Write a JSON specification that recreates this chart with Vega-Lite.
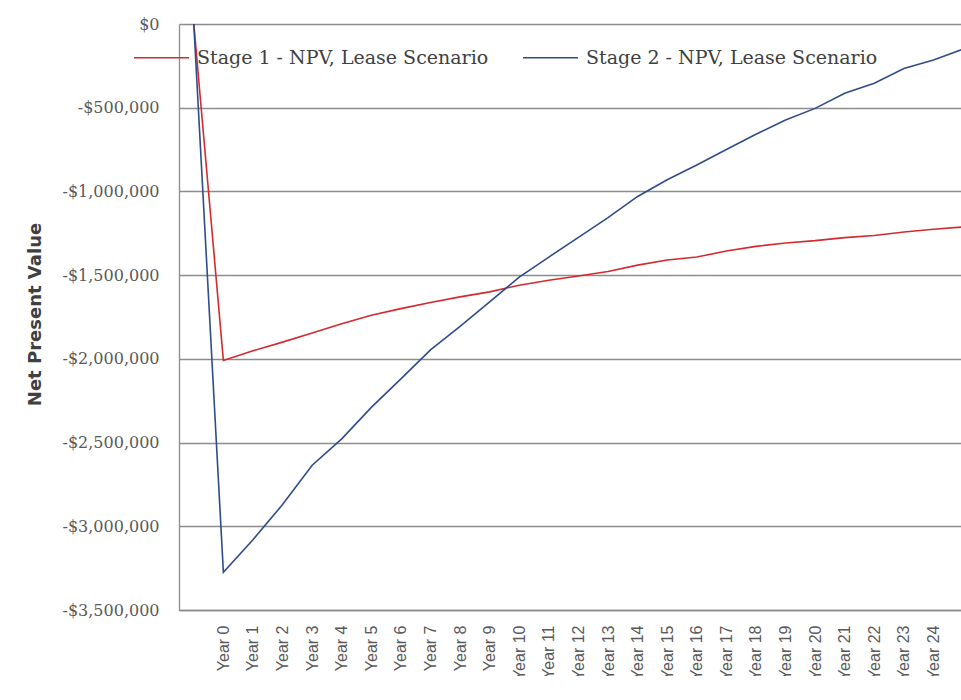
{
  "$schema": "https://vega.github.io/schema/vega-lite/v6.json",
  "autosize": {"type": "none"},
  "padding": {"left": 179, "top": 24, "right": 0, "bottom": 66},
  "width": 782,
  "height": 586,
  "background": "white",
  "config": {"view": {"stroke": null}},
  "data": {"values": [
    {"year": -1, "series": "Stage 1 - NPV, Lease Scenario", "npv": 0},
    {"year": 0, "series": "Stage 1 - NPV, Lease Scenario", "npv": -2010000},
    {"year": 1, "series": "Stage 1 - NPV, Lease Scenario", "npv": -1952000},
    {"year": 2, "series": "Stage 1 - NPV, Lease Scenario", "npv": -1900000},
    {"year": 3, "series": "Stage 1 - NPV, Lease Scenario", "npv": -1845000},
    {"year": 4, "series": "Stage 1 - NPV, Lease Scenario", "npv": -1790000},
    {"year": 5, "series": "Stage 1 - NPV, Lease Scenario", "npv": -1740000},
    {"year": 6, "series": "Stage 1 - NPV, Lease Scenario", "npv": -1700000},
    {"year": 7, "series": "Stage 1 - NPV, Lease Scenario", "npv": -1663000},
    {"year": 8, "series": "Stage 1 - NPV, Lease Scenario", "npv": -1630000},
    {"year": 9, "series": "Stage 1 - NPV, Lease Scenario", "npv": -1600000},
    {"year": 10, "series": "Stage 1 - NPV, Lease Scenario", "npv": -1560000},
    {"year": 11, "series": "Stage 1 - NPV, Lease Scenario", "npv": -1530000},
    {"year": 12, "series": "Stage 1 - NPV, Lease Scenario", "npv": -1505000},
    {"year": 13, "series": "Stage 1 - NPV, Lease Scenario", "npv": -1478000},
    {"year": 14, "series": "Stage 1 - NPV, Lease Scenario", "npv": -1440000},
    {"year": 15, "series": "Stage 1 - NPV, Lease Scenario", "npv": -1410000},
    {"year": 16, "series": "Stage 1 - NPV, Lease Scenario", "npv": -1392000},
    {"year": 17, "series": "Stage 1 - NPV, Lease Scenario", "npv": -1356000},
    {"year": 18, "series": "Stage 1 - NPV, Lease Scenario", "npv": -1328000},
    {"year": 19, "series": "Stage 1 - NPV, Lease Scenario", "npv": -1308000},
    {"year": 20, "series": "Stage 1 - NPV, Lease Scenario", "npv": -1294000},
    {"year": 21, "series": "Stage 1 - NPV, Lease Scenario", "npv": -1276000},
    {"year": 22, "series": "Stage 1 - NPV, Lease Scenario", "npv": -1263000},
    {"year": 23, "series": "Stage 1 - NPV, Lease Scenario", "npv": -1242000},
    {"year": 24, "series": "Stage 1 - NPV, Lease Scenario", "npv": -1226000},
    {"year": 25, "series": "Stage 1 - NPV, Lease Scenario", "npv": -1212000},
    {"year": -1, "series": "Stage 2 - NPV, Lease Scenario", "npv": 0},
    {"year": 0, "series": "Stage 2 - NPV, Lease Scenario", "npv": -3275000},
    {"year": 1, "series": "Stage 2 - NPV, Lease Scenario", "npv": -3080000},
    {"year": 2, "series": "Stage 2 - NPV, Lease Scenario", "npv": -2870000},
    {"year": 3, "series": "Stage 2 - NPV, Lease Scenario", "npv": -2635000},
    {"year": 4, "series": "Stage 2 - NPV, Lease Scenario", "npv": -2478000},
    {"year": 5, "series": "Stage 2 - NPV, Lease Scenario", "npv": -2290000},
    {"year": 6, "series": "Stage 2 - NPV, Lease Scenario", "npv": -2120000},
    {"year": 7, "series": "Stage 2 - NPV, Lease Scenario", "npv": -1946000},
    {"year": 8, "series": "Stage 2 - NPV, Lease Scenario", "npv": -1806000},
    {"year": 9, "series": "Stage 2 - NPV, Lease Scenario", "npv": -1660000},
    {"year": 10, "series": "Stage 2 - NPV, Lease Scenario", "npv": -1512000},
    {"year": 11, "series": "Stage 2 - NPV, Lease Scenario", "npv": -1392000},
    {"year": 12, "series": "Stage 2 - NPV, Lease Scenario", "npv": -1274000},
    {"year": 13, "series": "Stage 2 - NPV, Lease Scenario", "npv": -1157000},
    {"year": 14, "series": "Stage 2 - NPV, Lease Scenario", "npv": -1030000},
    {"year": 15, "series": "Stage 2 - NPV, Lease Scenario", "npv": -930000},
    {"year": 16, "series": "Stage 2 - NPV, Lease Scenario", "npv": -842000},
    {"year": 17, "series": "Stage 2 - NPV, Lease Scenario", "npv": -750000},
    {"year": 18, "series": "Stage 2 - NPV, Lease Scenario", "npv": -658000},
    {"year": 19, "series": "Stage 2 - NPV, Lease Scenario", "npv": -574000},
    {"year": 20, "series": "Stage 2 - NPV, Lease Scenario", "npv": -504000},
    {"year": 21, "series": "Stage 2 - NPV, Lease Scenario", "npv": -414000},
    {"year": 22, "series": "Stage 2 - NPV, Lease Scenario", "npv": -354000},
    {"year": 23, "series": "Stage 2 - NPV, Lease Scenario", "npv": -266000},
    {"year": 24, "series": "Stage 2 - NPV, Lease Scenario", "npv": -215000},
    {"year": 25, "series": "Stage 2 - NPV, Lease Scenario", "npv": -150000}
  ]},
  "mark": {"type": "line", "strokeWidth": 1.6, "clip": true},
  "encoding": {
    "x": {
      "field": "year", "type": "quantitative",
      "scale": {"domain": [-1.5, 24.93], "nice": false, "zero": false},
      "axis": {
        "title": null,
        "values": [0,1,2,3,4,5,6,7,8,9,10,11,12,13,14,15,16,17,18,19,20,21,22,23,24],
        "labelExpr": "'Year ' + datum.value",
        "labelAngle": -90,
        "labelFont": "Liberation Sans",
        "labelFontSize": 16,
        "labelColor": "#595959",
        "labelPadding": 15,
        "labelFlush": false,
        "labelOverlap": false,
        "ticks": false,
        "grid": false,
        "domainColor": "#8c8c8c",
        "domainWidth": 1.3
      }
    },
    "y": {
      "field": "npv", "type": "quantitative",
      "scale": {"domain": [-3500000, 0], "nice": false},
      "axis": {
        "title": "Net Present Value",
        "titleFont": "DejaVu Sans",
        "titleFontSize": 18,
        "titleFontWeight": "bold",
        "titleColor": "#404040",
        "titleX": -144,
        "titleY": 290,
        "titleAngle": -90,
        "titleAlign": "center",
        "titleBaseline": "middle",
        "values": [0, -500000, -1000000, -1500000, -2000000, -2500000, -3000000, -3500000],
        "labelExpr": "datum.value < 0 ? '-$' + format(-datum.value, ',') : '$0'",
        "labelFont": "DejaVu Serif",
        "labelFontSize": 16,
        "labelColor": "#595959",
        "labelPadding": 20,
        "ticks": false,
        "grid": true,
        "gridColor": "#8c8c8c",
        "gridWidth": 1.3,
        "domainColor": "#8c8c8c",
        "domainWidth": 1.3
      }
    },
    "color": {
      "field": "series", "type": "nominal",
      "scale": {
        "domain": ["Stage 1 - NPV, Lease Scenario", "Stage 2 - NPV, Lease Scenario"],
        "range": ["#D42A2F", "#2F4C8A"]
      },
      "legend": {
        "title": null,
        "orient": "none",
        "direction": "horizontal",
        "legendX": -46,
        "legendY": 5,
        "symbolType": "stroke",
        "symbolSize": 3025,
        "symbolStrokeWidth": 1.6,
        "labelOffset": 7,
        "columnPadding": 30,
        "labelFont": "DejaVu Serif",
        "labelFontSize": 19,
        "labelColor": "#404040",
        "labelLimit": 400
      }
    }
  }
}
